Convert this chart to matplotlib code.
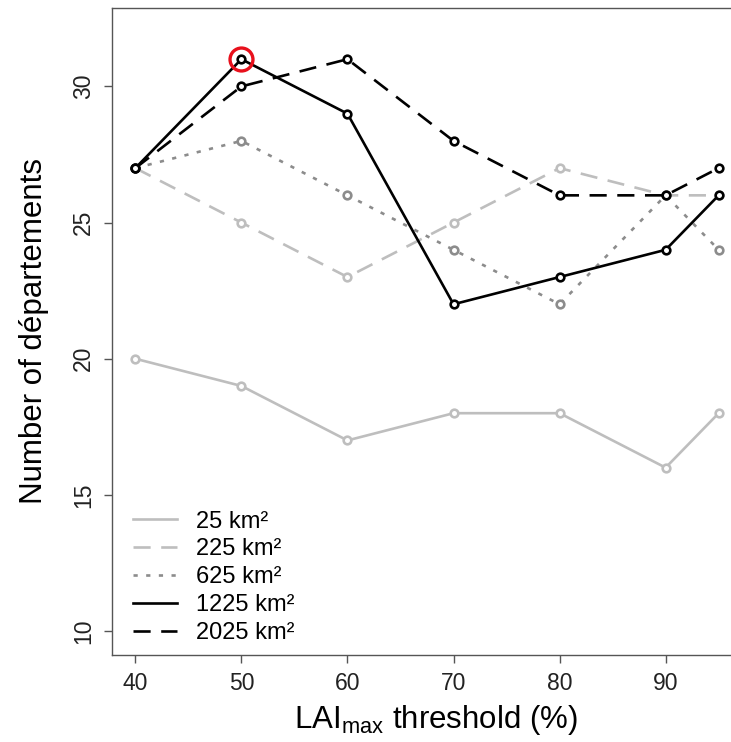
import matplotlib
matplotlib.use("Agg")
import matplotlib.pyplot as plt

# Valeurs
seuils = [40, 50, 60, 70, 80, 90, 95]
s25 = [20, 19, 17, 18, 18, 16, 18]
s225 = [27, 25, 23, 25, 27, 26, 26]
s625 = [27, 28, 26, 24, 22, 26, 24]
s1225 = [27, 31, 29, 22, 23, 24, 26]
s2025 = [27, 30, 31, 28, 26, 26, 27]

labels = ["25 km²", "225 km²", "625 km²", "1225 km²", "2025 km²"]
couleurs = ["#bebebe", "#bebebe", "#8c8c8c", "black", "black"]
styles = ["-", (0, (6.5, 4)), (0, (1.6, 3.2)), "-", (0, (6.5, 4))]

x_ticks = [40, 50, 60, 70, 80, 90]
y_ticks = [10, 15, 20, 25, 30]

plt.rcParams["font.family"] = ["Liberation Sans", "DejaVu Sans"]
plt.rcParams["mathtext.fontset"] = "custom"
plt.rcParams["mathtext.rm"] = "Liberation Sans"

fig = plt.figure(figsize=(7.31, 7.42), dpi=100)
ax = fig.add_axes([112 / 731, 1 - 655 / 742, 630 / 731, 647 / 742])

series = [s25, s225, s625, s1225, s2025]
for vals, lab, col, ls in zip(series, labels, couleurs, styles):
    ax.plot(seuils, vals, color=col, linestyle=ls, linewidth=1.9, label=lab,
            marker="o", markersize=5.5, markerfacecolor="white",
            markeredgecolor=col, markeredgewidth=1.9)

# point mis en évidence
ax.plot([50], [31], marker="o", markersize=16.5, markerfacecolor="none",
        markeredgecolor="#e8101c", markeredgewidth=2.4, linestyle="none")

ax.set_xlim(37.8, 97.2)
ax.set_ylim(9.12, 32.88)
ax.set_xticks(x_ticks)
ax.set_yticks(y_ticks)
ax.tick_params(direction="out", length=6, width=1, colors="#555555",
               labelsize=16.5, labelcolor="#222222", pad=6)
for lab in ax.get_yticklabels():
    lab.set_rotation(90)
    lab.set_va("center")
for sp in ax.spines.values():
    sp.set_color("#555555")
    sp.set_linewidth(1)

ax.set_xlabel(r"LAI$_{\mathregular{max}}$ threshold (%)", fontsize=22.5, labelpad=6)
ax.xaxis.label.set_x(0.514)
ax.set_ylabel("Number of départements", fontsize=22.5, labelpad=17)

leg = ax.legend(loc="lower left", bbox_to_anchor=(-0.011, -0.027), frameon=False,
                fontsize=17, handlelength=1.85, labelspacing=0.25,
                handletextpad=0.8, borderaxespad=0.8)
for h in leg.get_lines():
    h.set_marker("")

fig.savefig("out.png", dpi=100)
